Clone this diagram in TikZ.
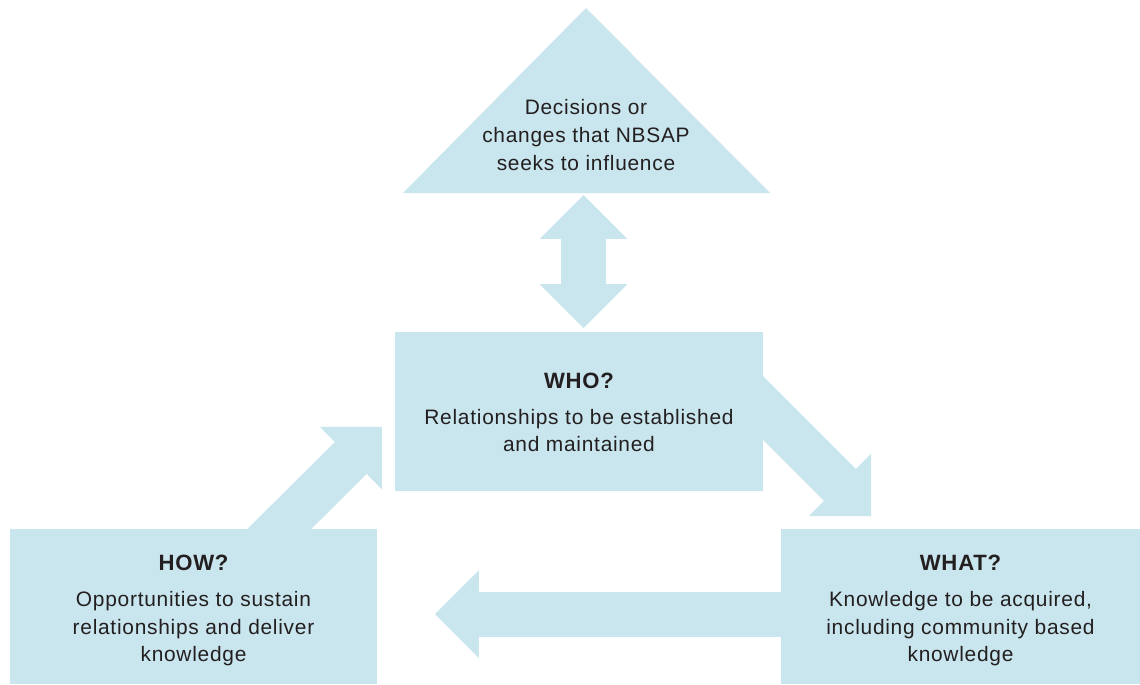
\documentclass[tikz,border=0pt]{standalone}
\usepackage{fontspec}
\setmainfont[LetterSpace=3.5]{Liberation Sans}
\usetikzlibrary{arrows.meta,calc}
\definecolor{boxblue}{HTML}{C9E5ED}
\definecolor{ink}{HTML}{231F20}
\newcommand{\bodysize}{\fontsize{11.9pt}{15.7pt}\selectfont}
\newcommand{\headsize}{\fontsize{12.6pt}{15.7pt}\selectfont\bfseries}

\begin{document}
\begin{tikzpicture}[x=.02cm,y=-.02cm,
  box/.style={fill=boxblue, inner sep=0pt},
  boxtext/.style={align=center, text=ink, font=\bodysize},
  bigarrow/.style={draw=boxblue, line width=.9cm, -{Triangle[length=.88cm,width=1.76cm,line width=0pt]}}]
\useasboundingbox (0,0) rectangle (1140,684);

% the decision triangle
\fill[boxblue] (586,8) -- (770,193) -- (403,193) -- cycle;
\node (goal) at (586,135) [boxtext] {Decisions or\\changes that NBSAP\\seeks to influence};

\node (who) at (579,411.5) [box, minimum width=7.36cm, minimum height=3.18cm] {};
\node (how) at (193.5,606.5) [box, minimum width=7.34cm, minimum height=3.1cm] {};
\node (what) at (960.5,606.5) [box, minimum width=7.18cm, minimum height=3.1cm] {};

\node (who text) at ($(who.center)+(0,1)$) [boxtext] {{\headsize WHO?}\\[4.8pt]Relationships to be established\\and maintained};
\node (how text) at ($(how.center)+(0,4)$) [boxtext] {{\headsize HOW?}\\[4.8pt]Opportunities to sustain\\relationships and deliver\\knowledge};
\node (what text) at ($(what.center)+(0,4)$) [boxtext] {{\headsize WHAT?}\\[4.8pt]Knowledge to be acquired,\\including community based\\knowledge};

% arrow ends
\coordinate (goal in) at (583.5,195);
\coordinate (who top) at (583.5,328);
\coordinate (who out) at (740,385);
\coordinate (what in) at (871,516);
\coordinate (what out) at (800,614);
\coordinate (how in) at (435,614);
\coordinate (how out) at (248,560);
\coordinate (who in) at (382,427);

\draw[bigarrow, {Triangle[length=.88cm,width=1.76cm,line width=0pt]}-{Triangle[length=.88cm,width=1.76cm,line width=0pt]}] (goal in) -- (who top);
\draw[bigarrow] (who out) -- (what in);
\draw[bigarrow] (what out) -- (how in);
\draw[bigarrow] (how out) -- (who in);
\end{tikzpicture}
\end{document}
